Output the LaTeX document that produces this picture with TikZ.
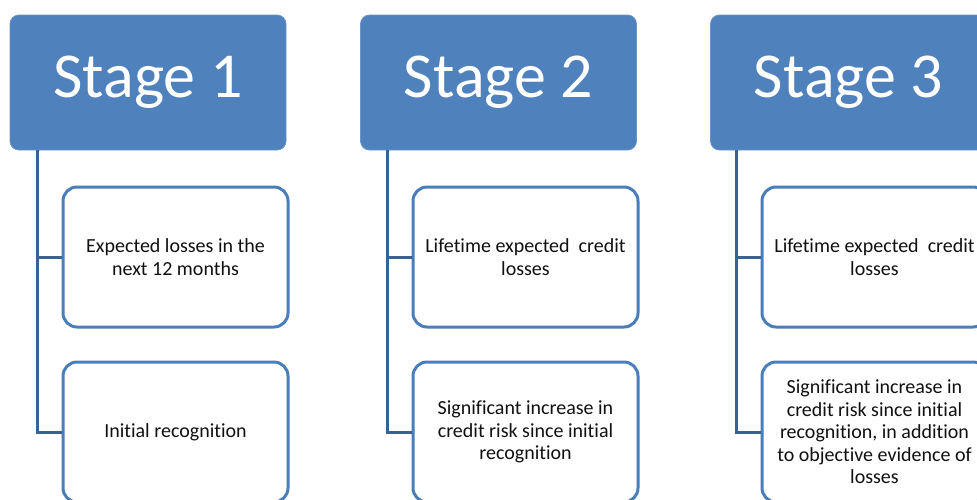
\documentclass[tikz,border=0pt]{standalone}
\usepackage{fontspec}
\setmainfont{Carlito}[Ligatures=NoCommon]
\definecolor{hdrblue}{HTML}{4F81BD}
\definecolor{boxblue}{HTML}{4A7EBB}
\definecolor{linkblue}{HTML}{3A6193}
\definecolor{txt}{HTML}{111111}
\begin{document}
\begin{tikzpicture}[x=1pt,y=-1pt,
  header/.style={fill=hdrblue, draw=hdrblue!85!white, line width=0.8pt, rounded corners=9pt,
    minimum width=276pt, minimum height=135pt, inner sep=0pt, text=white,
    font=\fontsize{64}{70}\selectfont},
  itembox/.style={fill=white, draw=boxblue, line width=3pt, rounded corners=14pt,
    minimum width=225pt, minimum height=140pt, inner sep=0pt, text=txt, align=center,
    font=\fontsize{20}{22.5}\selectfont},
  link/.style={draw=linkblue, line width=3pt}]
\useasboundingbox (0,0) rectangle (977,499);
\clip (0,0) rectangle (977,499);

% headers
\node[header] (h1) at (148,82.5) {\raisebox{-2pt}{Stage 1}};
\node[header] (h2) at (498.5,82.5) {\raisebox{-2pt}{Stage 2}};
\node[header] (h3) at (848.5,82.5) {\raisebox{-2pt}{Stage 3}};

% trunk start points
\coordinate (t1) at (37,150);
\coordinate (t2) at (387,150);
\coordinate (t3) at (736,150);

% boxes
\node[itembox] (b11) at (175.5,257) {Expected losses in the\\next 12 months};
\node[itembox] (b12) at (175.5,432) {Initial recognition};
\node[itembox] (b21) at (525.5,257) {Lifetime expected\ \ credit\\losses};
\node[itembox] (b22) at (525.5,432) {Significant increase in\\credit risk since initial\\recognition};
\node[itembox] (b31) at (874.5,257) {Lifetime expected\ \ credit\\losses};
\node[itembox] (b32) at (874.5,432) {Significant increase in\\credit risk since initial\\recognition, in addition\\to objective evidence of\\losses};

% connectors
\path[link] (t1) |- (b11.west);
\path[link] (t1) |- (b12.west);
\path[link] (t2) |- (b21.west);
\path[link] (t2) |- (b22.west);
\path[link] (t3) |- (b31.west);
\path[link] (t3) |- (b32.west);
\end{tikzpicture}
\end{document}
